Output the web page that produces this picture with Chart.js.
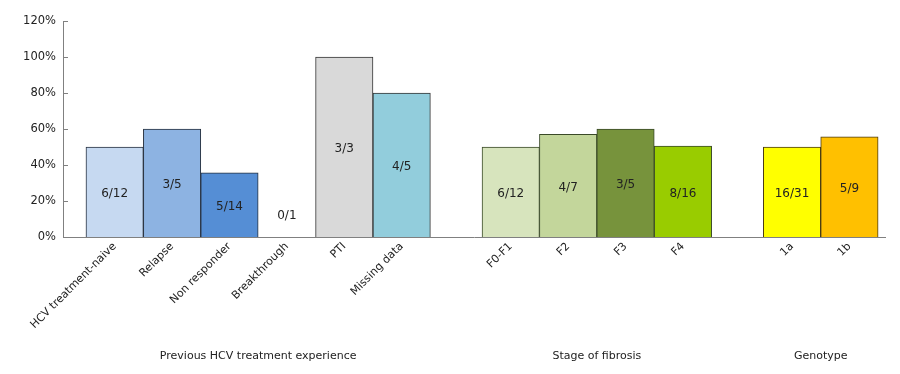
<!DOCTYPE html>
<html>
<head>
<meta charset="utf-8">
<script src="https://cdn.jsdelivr.net/npm/chart.js@4.4.1/dist/chart.umd.min.js"></script>
<style>
  html, body { margin: 0; padding: 0; background: #fff; }
</style>
</head>
<body>
<canvas id="myChart" width="900" height="374"></canvas>
<script>
// grupos e categorias do eixo x
const groups = ['Previous HCV treatment experience', 'Stage of fibrosis', 'Genotype'];
const groupCategories = [
    ['HCV treatment-naive', 'Relapse', 'Non responder', 'Breakthrough', 'PTI', 'Missing data'],
    ['F0-F1', 'F2', 'F3', 'F4'],
    ['1a', '1b']
];
// percentuais
const groupValues = [
    [50, 60, 35.7, 0, 100, 80],
    [50, 57.1, 60, 50.5],
    [50, 55.6]
];
// textos dentro das barras
const groupCounts = [
    ['6/12', '3/5', '5/14', '0/1', '3/3', '4/5'],
    ['6/12', '4/7', '3/5', '8/16'],
    ['16/31', '5/9']
];
const yTicks = [0, 20, 40, 60, 80, 100, 120];

const groupColors = [
    ['#c6d9f1', '#8db3e2', '#558ed5', '#c6d9f1', '#d9d9d9', '#92cddc'],
    ['#d7e4bd', '#c3d69b', '#77933c', '#99cc00'],
    ['#ffff00', '#ffc000']
];
const groupBorders = ['#27313f', '#3a4a28', '#4a3a14'];

// montando as posicoes no eixo x (uma unidade por barra, espaco entre grupos)
const GAP = 0.9;
let positions = [], labels = [], values = [], counts = [], colors = [], borders = [], spans = [];
let pos = 0;
groupCategories.forEach((cats, g) => {
    if (g > 0) pos += GAP;
    const start = pos;
    cats.forEach((cat, i) => {
        positions.push(pos + 0.5);
        labels.push(cat);
        values.push(groupValues[g][i]);
        counts.push(groupCounts[g][i]);
        colors.push(groupColors[g][i]);
        borders.push(g === 0 && i >= 4 ? '#333333' : groupBorders[g]);
        pos += 1;
    });
    spans.push([start, pos]);
});

const FONT = '"DejaVu Sans", Verdana, sans-serif';
Chart.defaults.font.family = FONT;

// textos 6/12 etc no meio das barras
const valueLabels = {
    id: 'valueLabels',
    afterDatasetsDraw(chart) {
        const ctx = chart.ctx;
        const meta = chart.getDatasetMeta(0);
        ctx.save();
        ctx.font = '12px ' + FONT;
        ctx.fillStyle = '#222222';
        ctx.textAlign = 'center';
        ctx.textBaseline = 'middle';
        meta.data.forEach((bar, i) => {
            const mid = (bar.y + bar.base) / 2 + 2;
            ctx.fillText(counts[i], bar.x, Math.min(mid, bar.base - 21));
        });
        ctx.restore();
    }
};

// marcas do eixo y para dentro e nomes dos grupos
const extras = {
    id: 'extras',
    afterDraw(chart) {
        const { ctx, chartArea, scales } = chart;
        ctx.save();
        ctx.strokeStyle = '#808080';
        ctx.lineWidth = 1;
        ctx.beginPath();
        yTicks.forEach(v => {
            const y = Math.round(scales.y.getPixelForValue(v)) + 0.5;
            ctx.moveTo(chartArea.left, y);
            ctx.lineTo(chartArea.left + 5, y);
        });
        ctx.stroke();

        ctx.font = '11px ' + FONT;
        ctx.fillStyle = '#222222';
        ctx.textAlign = 'center';
        ctx.textBaseline = 'middle';
        spans.forEach((s, g) => {
            const x = scales.x.getPixelForValue((s[0] + s[1]) / 2);
            ctx.fillText(groups[g], x, 356);
        });
        ctx.restore();
    }
};

const ctx = document.getElementById('myChart');
new Chart(ctx, {
    type: 'bar',
    data: {
        datasets: [{
            data: positions.map((p, i) => ({ x: p, y: values[i] })),
            backgroundColor: colors,
            borderColor: borders,
            borderWidth: 1,
            categoryPercentage: 1,
            barPercentage: 1
        }]
    },
    options: {
        responsive: false,
        animation: false,
        layout: { padding: { top: 21, right: 15, left: 0, bottom: 0 } },
        plugins: { legend: { display: false }, tooltip: { enabled: false } },
        scales: {
            x: {
                type: 'linear',
                offset: false,
                min: -0.4,
                max: pos + 0.12,
                grid: { display: false, drawTicks: false },
                border: { display: true, color: '#808080', width: 1 },
                afterBuildTicks: (scale) => { scale.ticks = positions.map(v => ({ value: v })); },
                afterFit: (scale) => { scale.height = 137; },
                ticks: {
                    autoSkip: false,
                    minRotation: 45,
                    maxRotation: 45,
                    padding: 3,
                    color: '#222222',
                    font: { size: 11 },
                    callback: (value, index) => labels[index]
                }
            },
            y: {
                min: 0,
                max: 120,
                grid: { display: false, drawTicks: false },
                border: { display: true, color: '#808080', width: 1 },
                afterBuildTicks: (scale) => { scale.ticks = yTicks.map(v => ({ value: v })); },
                afterFit: (scale) => { scale.width = 63; },
                ticks: {
                    padding: 7,
                    color: '#222222',
                    font: { size: 11.5 },
                    callback: (v) => v + '%'
                }
            }
        }
    },
    plugins: [valueLabels, extras]
});
</script>
</body>
</html>
